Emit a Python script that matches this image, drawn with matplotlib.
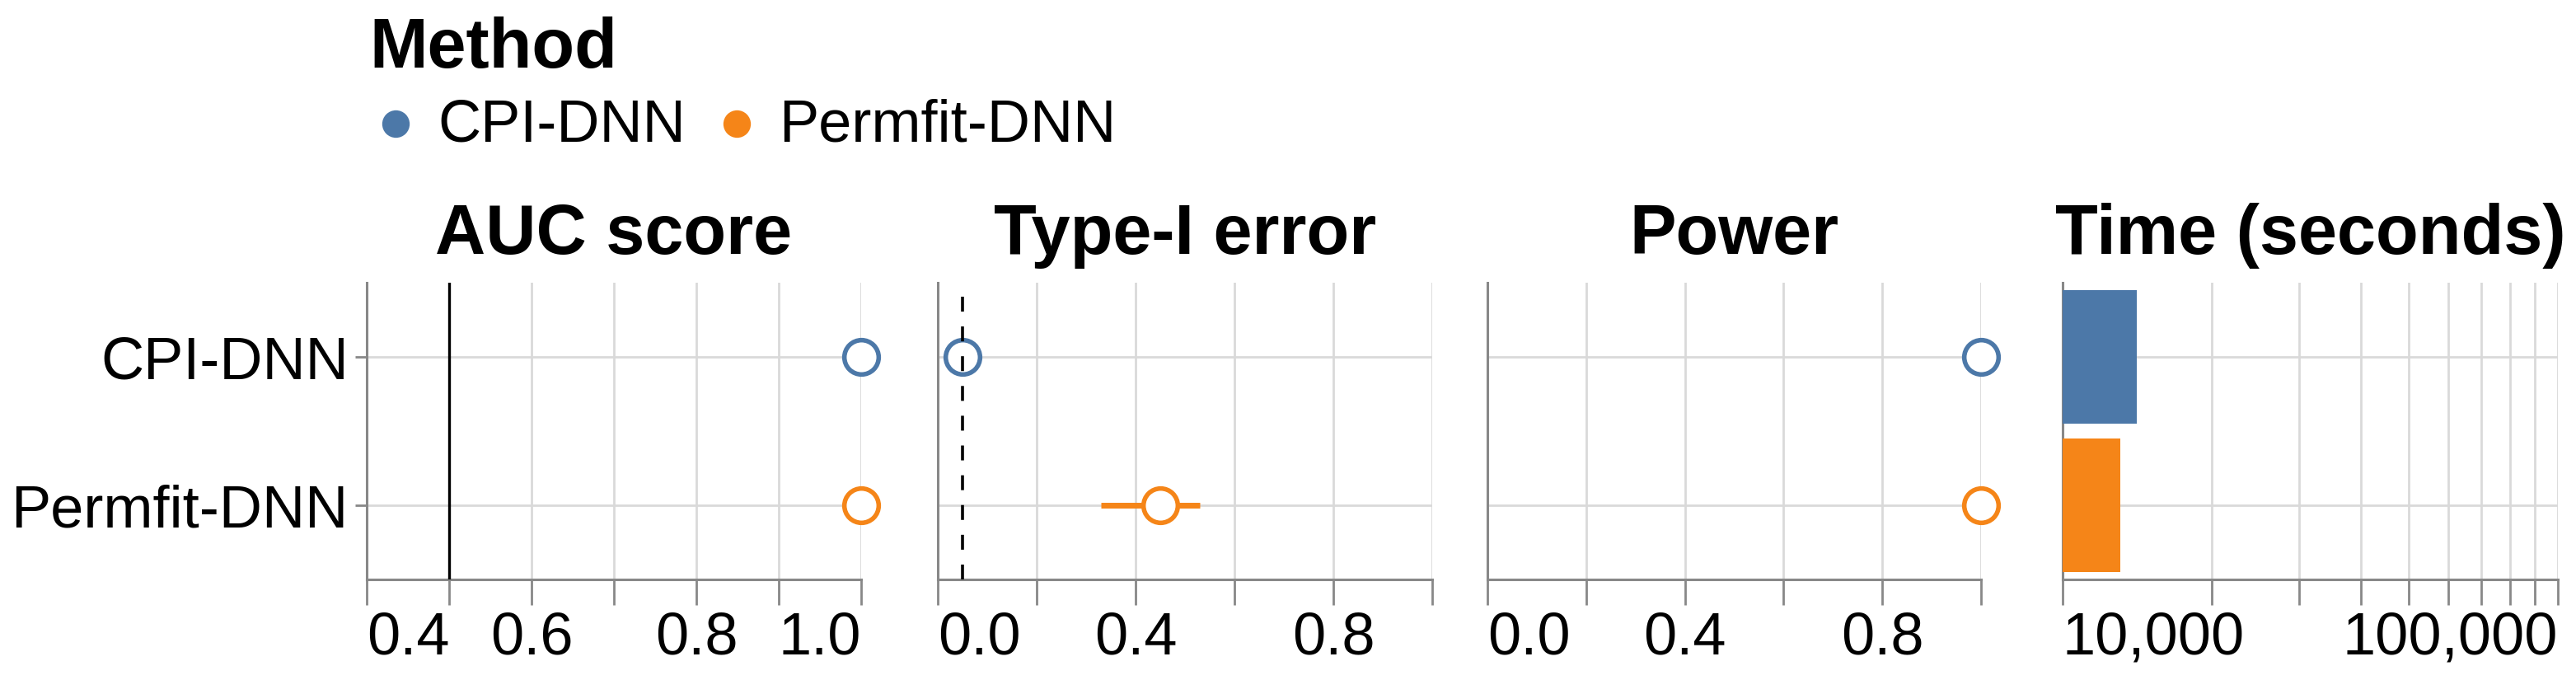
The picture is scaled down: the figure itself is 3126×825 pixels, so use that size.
import matplotlib
matplotlib.use('Agg')
import matplotlib.pyplot as plt
from matplotlib.lines import Line2D

plt.rcParams['font.family'] = ['Liberation Sans', 'DejaVu Sans']

# data
methods = ['CPI-DNN', 'Permfit-DNN']
colors = ['#4c78a8', '#f58518']
auc = [1.0, 1.0]
type1 = [0.05, 0.45]
type1_lo = [0.05, 0.33]
type1_hi = [0.05, 0.53]
power = [1.0, 1.0]
time_sec = [14100, 13100]
alpha_level = 0.05
auc_chance = 0.5

W, H = 3126, 825
fig = plt.figure(figsize=(W / 100, H / 100), dpi=100)

GRID = '#d9d9d9'
AXC = '#888888'
TICK_FS = 52
TITLE_FS = 61


def px_axes(left, top, width, height):
    return fig.add_axes([left / W, (H - top - height) / H, width / W, height / H])


def style(ax, xlim, xticks, xlabels, title, first=False):
    ax.set_xlim(*xlim)
    ax.set_ylim(1.5, -0.5)
    ax.set_axisbelow(True)
    for s in ['top', 'right']:
        ax.spines[s].set_visible(False)
    for s in ['left', 'bottom']:
        ax.spines[s].set_color(AXC)
        ax.spines[s].set_linewidth(2.2)
    ax.set_xticks(xticks, xlabels)
    ax.minorticks_off()
    ax.tick_params(axis='x', length=22, width=2, color=AXC, pad=6,
                   labelsize=TICK_FS)
    ax.set_yticks(range(len(methods)))
    if first:
        ax.set_yticklabels(methods)
        ax.tick_params(axis='y', length=10, width=2, color=AXC, pad=6,
                       labelsize=TICK_FS)
    else:
        ax.set_yticklabels([])
        ax.tick_params(axis='y', length=0)
    ax.grid(True, color=GRID, linewidth=2)
    labels = ax.get_xticklabels()
    labels[0].set_ha('left')
    if xlabels[-1]:
        labels[-1].set_ha('right')
    pos = ax.get_position()
    fig.text((pos.x0 + pos.x1) / 2, (H - 308) / H, title, ha='center',
             va='baseline', fontsize=TITLE_FS, fontweight='bold')


def points(ax, vals):
    for i, v in enumerate(vals):
        ax.plot(v, i, 'o', ms=30, mfc='white', mec=colors[i], mew=4,
                zorder=4, clip_on=False)


# AUC score
ax1 = px_axes(445, 343, 600, 360)
style(ax1, (0.4, 1.0), [0.4, 0.5, 0.6, 0.7, 0.8, 0.9, 1.0],
      ['0.4', '', '0.6', '', '0.8', '', '1.0'], 'AUC score', first=True)
ax1.axvline(auc_chance, color='black', lw=2.4, zorder=3)
points(ax1, auc)

# Type-I error
ax2 = px_axes(1138, 343, 600, 360)
style(ax2, (0, 1.0), [0, 0.2, 0.4, 0.6, 0.8, 1.0],
      ['0.0', '', '0.4', '', '0.8', ''], 'Type-I error')
for i in range(len(methods)):
    ax2.hlines(i, type1_lo[i], type1_hi[i], color=colors[i], lw=5, zorder=3)
points(ax2, type1)
ax2.axvline(alpha_level, color='black', lw=2.6, ls=(0, (5, 5)), zorder=5)

# Power
ax3 = px_axes(1805, 343, 599, 360)
style(ax3, (0, 1.0), [0, 0.2, 0.4, 0.6, 0.8, 1.0],
      ['0.0', '', '0.4', '', '0.8', ''], 'Power')
points(ax3, power)

# Time
ax4 = px_axes(2503, 343, 601, 360)
ax4.set_xscale('log')
tticks = [10000 * k for k in range(1, 11)]
tlabels = ['10,000'] + [''] * 8 + ['100,000']
ax4.barh(range(len(methods)), [t - 10000 for t in time_sec], left=10000,
         height=0.9, color=colors, zorder=3)
style(ax4, (10000, 100000), tticks, tlabels, 'Time (seconds)')

# legend
fig.text(448 / W, (H - 82) / H, 'Method', fontsize=TITLE_FS, fontweight='bold',
         va='baseline', ha='left')
lx = [480, 894]
for i, m in enumerate(methods):
    fig.add_artist(Line2D([lx[i] / W], [(H - 150) / H], marker='o', ms=24,
                          color=colors[i], mec='none', ls='none',
                          transform=fig.transFigure))
    fig.text((lx[i] + 51) / W, (H - 172) / H, m, fontsize=TICK_FS,
             va='baseline', ha='left')

fig.savefig('out.png', dpi=100)
